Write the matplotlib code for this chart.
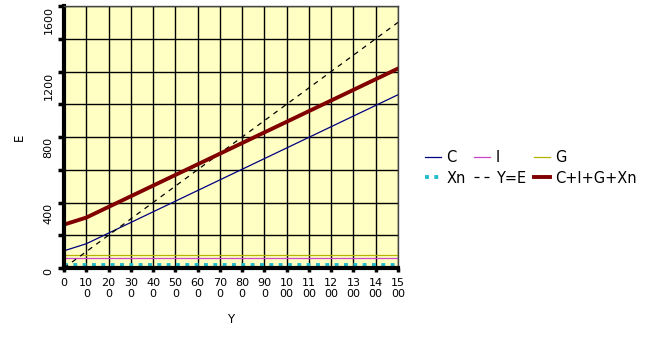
# aggregate expenditure vs income chart

import numpy as np
import matplotlib.pyplot as plt
from matplotlib.ticker import MultipleLocator

Y = [0, 100, 200, 300, 400, 500, 600, 700, 800, 900, 1000, 1100, 1200, 1300, 1400, 1500]
C = [105, 148, 213, 278, 343, 408, 473, 538, 603, 668, 733, 798, 863, 928, 993, 1058]
I = [60] * 16
G = [80] * 16
Xn = [20] * 16
xlabels = ['0', '10\n0', '20\n0', '30\n0', '40\n0', '50\n0', '60\n0', '70\n0', '80\n0',
           '90\n0', '10\n00', '11\n00', '12\n00', '13\n00', '14\n00', '15\n00']
ylabels = [0, 400, 800, 1200, 1600]

Y = np.array(Y)
total = np.array(C) + np.array(I) + np.array(G) + np.array(Xn)

fig = plt.figure(figsize=(6.6, 3.41), dpi=100)
ax = fig.add_axes([64/660, 1 - 268/341, 334/660, 262/341])
ax.set_facecolor('#ffffc4')

lc, = ax.plot(Y, C, color='#000080', lw=0.9, label='C')
li, = ax.plot(Y, I, color='#cc44cc', lw=0.9, label='I')
lg, = ax.plot(Y, G, color='#b4b400', lw=0.9, label='G')
lx, = ax.plot(Y, Xn, color='#22bbcc', lw=2.8, ls=(0, (1, 1.4)), label='Xn')
ly, = ax.plot(Y, Y, color='black', lw=0.9, ls=(0, (4, 4)), label='Y=E')
lt, = ax.plot(Y, total, color='#800000', lw=2.8, label='C+I+G+Xn')

ax.set_xlim(0, 1500)
ax.set_ylim(0, 1600)
ax.set_xticks(Y)
ax.set_xticklabels(xlabels, fontsize=8, linespacing=1.2)
ax.yaxis.set_minor_locator(MultipleLocator(200))
ax.set_yticks(ylabels)
ax.set_yticklabels([str(v) for v in ylabels], fontsize=8, rotation=90, va='top')
ax.grid(True, which='both', color='black', lw=1)
ax.set_axisbelow(True)
ax.tick_params(axis='y', which='both', direction='out', length=4.5, width=2.5, colors='black', pad=3)
ax.tick_params(axis='x', which='both', direction='out', length=3, width=2.5, colors='black', pad=4)

for s in ['left', 'bottom']:
    ax.spines[s].set_linewidth(3)
for s in ['top', 'right']:
    ax.spines[s].set_linewidth(1)
    ax.spines[s].set_color('#444444')

ax.set_xlabel('Y', fontsize=8.5, labelpad=10)
ax.set_ylabel('E', fontsize=8.5, labelpad=13)

# column-major order so rows read C I G / Xn Y=E C+I+G+Xn
handles = [lc, lx, li, ly, lg, lt]
fig.legend(handles, [h.get_label() for h in handles], loc='center left',
           bbox_to_anchor=(412/660, 1 - 168/341), ncol=3, frameon=False,
           fontsize=10.5, handlelength=1.1, handletextpad=0.35,
           columnspacing=0.6, labelspacing=0.35)

plt.savefig('out.png')
